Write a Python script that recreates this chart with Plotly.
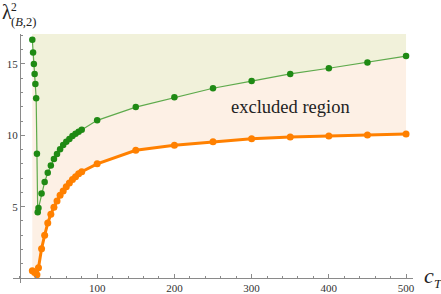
import plotly.graph_objects as go

# ---- data ----
green_x = [16, 17, 18, 19, 20, 21, 22, 23, 24, 28, 32, 36, 40, 44, 48, 52, 56, 60,
           64, 68, 72, 76, 80, 100, 150, 200, 250, 300, 350, 400, 450, 500]
green_y = [16.7, 15.8, 15.0, 14.3, 13.6, 12.6, 8.7, 4.6, 4.9, 5.92, 6.73, 7.38, 7.88,
           8.34, 8.69, 9.02, 9.32, 9.55, 9.74, 9.95, 10.11, 10.25, 10.39, 11.05,
           11.98, 12.66, 13.3, 13.8, 14.3, 14.7, 15.1, 15.55]

orange_x = [16, 19, 22, 24, 28, 32, 36, 40, 44, 48, 52, 56, 60, 64, 68, 72, 76, 80,
            100, 150, 200, 250, 300, 350, 400, 450, 500]
orange_y = [0.5, 0.38, 0.22, 0.72, 2.05, 3.0, 3.85, 4.47, 4.96, 5.4, 5.8, 6.1, 6.4,
            6.65, 6.9, 7.1, 7.3, 7.45, 8.0, 8.95, 9.3, 9.55, 9.76, 9.88, 9.95, 10.02, 10.09]

Y_TOP = 17.1
x_ticks = [100, 200, 300, 400, 500]
y_ticks = [5, 10, 15]

X_RANGE = [-9, 509]
Y_RANGE = [-0.35, 17.1]

fig = go.Figure()

# shaded regions (above each curve up to the top of the plot)
fig.add_trace(go.Scatter(
    x=orange_x + orange_x[::-1], y=orange_y + [Y_TOP] * len(orange_x),
    fill="toself", fillcolor="rgb(253,240,229)", mode="none", hoverinfo="skip",
    showlegend=False))
fig.add_trace(go.Scatter(
    x=green_x + green_x[::-1], y=green_y + [Y_TOP] * len(green_x),
    fill="toself", fillcolor="rgb(241,241,218)", mode="none", hoverinfo="skip",
    showlegend=False))

fig.add_trace(go.Scatter(
    x=orange_x, y=orange_y, mode="lines+markers",
    line=dict(color="#ff8000", width=3),
    marker=dict(color="#ff8000", size=7),
    showlegend=False, cliponaxis=False))
fig.add_trace(go.Scatter(
    x=green_x, y=green_y, mode="lines+markers",
    line=dict(color="#5eaa4c", width=1.2),
    marker=dict(color="#1f8a14", size=6.5),
    showlegend=False, cliponaxis=False))

x_zero_pos = (0 - X_RANGE[0]) / (X_RANGE[1] - X_RANGE[0])
y_zero_pos = (0 - Y_RANGE[0]) / (Y_RANGE[1] - Y_RANGE[0])

axis_color = "#8a8a8a"
tick_font = dict(family="Liberation Serif", size=11, color="#333333")

fig.update_layout(
    width=441, height=294,
    margin=dict(l=13, r=28, t=34, b=11, autoexpand=False),
    paper_bgcolor="white", plot_bgcolor="white",
    xaxis=dict(range=X_RANGE, showgrid=False, zeroline=False, automargin=False,
               showline=True, linecolor=axis_color, linewidth=1,
               anchor="free", position=y_zero_pos,
               tickvals=x_ticks, ticks="inside", ticklen=4, tickcolor=axis_color,
               minor=dict(dtick=20, tick0=0, ticks="inside", ticklen=2.5,
                          tickcolor=axis_color),
               tickfont=tick_font),
    yaxis=dict(range=Y_RANGE, showgrid=False, zeroline=False, automargin=False,
               showline=True, linecolor=axis_color, linewidth=1,
               anchor="free", position=x_zero_pos,
               tickvals=y_ticks, ticks="inside", ticklen=4, tickcolor=axis_color,
               minor=dict(dtick=1, tick0=0, ticks="inside", ticklen=2.5,
                          tickcolor=axis_color),
               tickfont=tick_font),
    annotations=[
        dict(x=350, y=12.0, xref="x", yref="y", text="excluded region",
             showarrow=False, font=dict(family="Liberation Serif", size=18.5, color="#222")),
        dict(x=-0.0325, y=1.09, xref="paper", yref="paper", text="λ",
             xanchor="left", yanchor="middle", showarrow=False,
             font=dict(family="Liberation Serif", size=20, color="#222")),
        dict(x=-0.008, y=1.108, xref="paper", yref="paper", text="2",
             xanchor="left", yanchor="middle", showarrow=False, borderpad=0,
             font=dict(family="Liberation Serif", size=11.5, color="#222")),
        dict(x=-0.008, y=1.050, xref="paper", yref="paper", text="(<i>B</i>,2)",
             xanchor="left", yanchor="middle", showarrow=False, borderpad=0,
             font=dict(family="Liberation Serif", size=12.5, color="#222")),
        dict(x=1.022, y=0.03, xref="paper", yref="paper", text="<i>c</i>",
             xanchor="left", yanchor="middle", showarrow=False,
             font=dict(family="Liberation Serif", size=22, color="#222")),
        dict(x=1.048, y=0.0, xref="paper", yref="paper", text="<i>T</i>",
             xanchor="left", yanchor="middle", showarrow=False,
             font=dict(family="Liberation Serif", size=13, color="#222")),
    ],
)

fig.write_html("out.html",
               config={"displayModeBar": False},
               post_script="document.body.style.margin='0px';"
                           "document.body.style.overflow='hidden';")
